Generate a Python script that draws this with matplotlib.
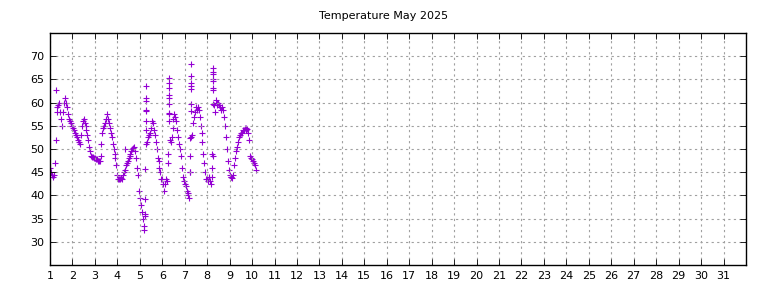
import numpy as np
import matplotlib
matplotlib.use('Agg')
import matplotlib.pyplot as plt

# hourly readings, one list per day (hour 0..23)
day1 = [46, 45, 44.5, 44, 44.5, 47, 52, 58, 59, 59.5, 60, 58, 56.5, 55, 58, 60, 61, 60, 59, 57.5, 56.5, 56, 55.5, 55]
day2 = [55, 54.5, 54, 53.5, 53, 52.5, 52, 51.5, 51, 53, 55, 56, 56.5, 55.5, 55, 54, 53, 52, 50.5, 49.5, 48.5, 48.3, 48.2, 48]
day3 = [48, 47.8, 47.8, 47.5, 47.4, 47.5, 48.5, 51, 53.5, 54.5, 55, 55.5, 56.5, 57.5, 56.5, 55.5, 54.5, 53.5, 52.5, 51, 50, 49, 48, 46.5]
day4 = [44.5, 43.5, 43.5, 43.5, 43.8, 43.5, 44.5, 45, 45.5, 46.5, 47, 47.5, 48, 48.5, 49, 49.5, 50, 50.3, 50.5, 49.5, 48, 46, 44.5, 41]
day5 = [39.5, 38, 36.5, 35, 33.5, 32.5, 36, 51, 51.5, 52.5, 53, 53.5, 54.5, 56, 55.5, 54, 53, 51.5, 50, 48, 47.5, 46, 45, 43.5]
day6 = [43.5, 42.5, 41, 42.5, 43.5, 43, 47, 57.5, 52, 51.5, 52.5, 54.5, 56.5, 57.5, 57, 56, 54, 52.5, 51, 50, 48.5, 46, 44, 43]
day7 = [42.5, 42, 41, 40.5, 40, 39.5, 45, 52.5, 53, 55.5, 57, 58, 59, 58.5, 59, 58.5, 57, 55, 53.5, 51.5, 49, 47, 45, 43.5]
day8 = [43.5, 43, 44, 43, 42.5, 44, 48.5, 59.5, 58, 60.5, 60, 59.5, 60, 59.5, 59, 58.5, 59, 58.5, 57, 55, 52.5, 50, 47.5, 45.5]
day9 = [44.5, 44, 44, 43.8, 44.5, 46.5, 48, 49.5, 50.5, 51.5, 52.5, 53, 53.5, 53.5, 54, 54, 54.5, 54.5, 54, 54.3, 53.5, 52, 48.5, 48]
day10 = [47.8, 47.5, 47, 46.5, 45.5]

# quick sunny readings in the mornings (day as fraction, temp)
spike_days = [1.27, 4.32, 5.22, 5.23, 5.25, 5.26, 5.26, 5.26, 5.27, 5.27, 5.27, 5.27,
              6.26, 6.28, 6.28, 6.28, 6.29, 6.29, 6.29, 6.30, 6.30,
              7.23, 7.24, 7.25, 7.26, 7.26, 7.27, 7.28, 7.28, 7.29, 7.30,
              8.21, 8.22, 8.24, 8.25, 8.25, 8.26, 8.26, 8.27, 8.28, 8.28]
spike_temps = [62.7, 50, 35.5, 39.2, 45.6, 54.2, 56, 58.1, 58.5, 60.3, 61, 63.5,
               48.9, 56, 57.8, 59.8, 61, 61.7, 63.2, 64.3, 65.2,
               45.1, 48.5, 52.4, 58.1, 59.6, 62.9, 64.3, 63.5, 65.8, 68.4,
               45.8, 48.9, 59.6, 62.7, 63.2, 64.6, 65, 66.1, 66.6, 67.5]

days = [day1, day2, day3, day4, day5, day6, day7, day8, day9, day10]
x = []
y = []
for i, d in enumerate(days):
    for h, t in enumerate(d):
        x.append(i + 1 + h / 24.0)
        y.append(t)

fig = plt.figure(figsize=(7.68, 2.88), dpi=100)
ax = fig.add_axes([50/768, 1-265/288, 696/768, 232/288])

ax.scatter(x, y, marker='+', s=16, c='#9400d3', linewidths=0.8)
ax.scatter(spike_days, spike_temps, marker='+', s=16, c='#9400d3', linewidths=0.8)

ax.set_xlim(1, 32)
ax.set_ylim(25, 75)
ax.set_xticks(range(1, 32))
ax.set_yticks(range(30, 75, 5))
ax.tick_params(direction='in', top=True, right=True, labelsize=8, length=4, width=0.6, pad=4)
ax.grid(True, color='#a0a0a0', linestyle=(0, (2, 3)), linewidth=0.8)
for s in ax.spines.values():
    s.set_linewidth(1)

fig.text(0.5, 1-16/288, 'Temperature May 2025', ha='center', va='center', fontsize=8)

plt.savefig('out.png', dpi=100)
